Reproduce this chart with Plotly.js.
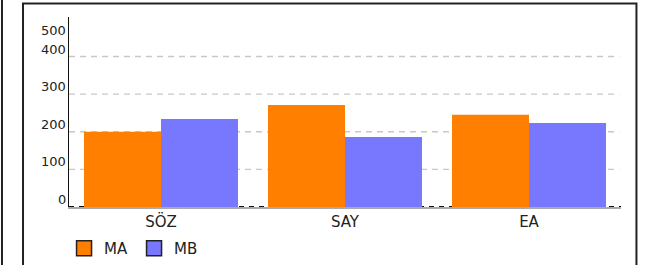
<!DOCTYPE html>
<html><head><meta charset="utf-8">
<script src="https://cdn.plot.ly/plotly-3.0.1.min.js"></script>
<style>html,body{margin:0;padding:0;background:#fff}#c{width:647px;height:265px}</style>
</head><body><div id="c"></div>
<script>
const categories = ['SÖZ', 'SAY', 'EA'];
const seriesNames = ['MA', 'MB'];
const valuesMA = [200, 271, 245];
const valuesMB = [234, 186, 223];
const yTickVals = [0, 100, 200, 300, 400, 500];
const yTickText = ['0', '100', '200', '300', '400', '500'];
const colors = ['#ff8000', '#7878ff'];

const seriesValues = [valuesMA, valuesMB];
const traces = [];
seriesNames.forEach((n, i) => {
  traces.push({type: 'bar', name: n, x: categories, y: seriesValues[i], showlegend: false,
    marker: {color: colors[i], line: {width: 0}}});
});
// legend entries (squares with dark border)
seriesNames.forEach((n, i) => {
  traces.push({type: 'scatter', mode: 'markers', name: n, x: [null], y: [null], showlegend: true,
    marker: {symbol: 'square', size: 15, color: colors[i], line: {color: '#222', width: 1.5}}});
});

const yMax = yTickVals[yTickVals.length - 1];
const annotations = yTickVals.map((v, i) => ({
  xref: 'paper', yref: 'y', x: 0, y: v, xanchor: 'right',
  yanchor: v === yMax ? 'top' : 'bottom', xshift: -1, yshift: -2,
  text: yTickText[i], showarrow: false,
  font: {family: 'DejaVu Sans', size: 13, color: '#222'}
}));

const gridShapes = yTickVals.filter(v => v > 0 && v < yMax).map(v => ({
  type: 'line', xref: 'paper', yref: 'y', x0: 0, x1: 0.997, y0: v, y1: v,
  line: {color: '#c8c8c8', width: 1.3, dash: '6px,5px'}, layer: 'below'
}));

const shapes = gridShapes.concat([
  {type: 'line', xref: 'paper', yref: 'y', x0: 0, x1: 1, y0: 0, y1: 0,
   line: {color: '#111', width: 2, dash: '5px,5px'}, layer: 'below'},
  {type: 'rect', xref: 'paper', yref: 'paper', x0: -0.0833, x1: 1.028, y0: -0.6, y1: 1.071,
   line: {color: '#222', width: 2}, layer: 'below'},
  {type: 'line', xref: 'paper', yref: 'paper', x0: -0.1214, x1: -0.1214, y0: -0.6, y1: 1.2,
   line: {color: '#222', width: 2}, layer: 'below'}
]);

const layout = {
  width: 647, height: 265,
  margin: {l: 69, r: 26, t: 17, b: 58, autoexpand: false},
  paper_bgcolor: '#fff', plot_bgcolor: 'rgba(0,0,0,0)',
  barmode: 'group', bargap: 0.163, bargroupgap: 0,
  font: {family: 'DejaVu Sans', color: '#222'},
  xaxis: {
    type: 'category', range: [-0.5, 2.5], showgrid: false, zeroline: false,
    showline: true, linecolor: '#aaa', linewidth: 2, layer: 'above traces',
    ticks: '', tickfont: {size: 15, color: '#222'}, ticklabelstandoff: 0
  },
  yaxis: {
    range: [0, 505], tickvals: yTickVals, showticklabels: false,
    showgrid: false, zeroline: false, showline: true, linecolor: '#111', linewidth: 1.5,
    ticks: ''
  },
  showlegend: true,
  legend: {orientation: 'h', xref: 'container', yref: 'container', x: 0.099, xanchor: 'left',
    y: -0.008, yanchor: 'bottom', itemwidth: 30, entrywidth: 25,
    font: {size: 15, color: '#222'}, bgcolor: 'rgba(0,0,0,0)'},
  annotations: annotations,
  shapes: shapes
};

Plotly.newPlot('c', traces, layout, {displayModeBar: false, staticPlot: true});
</script></body></html>
